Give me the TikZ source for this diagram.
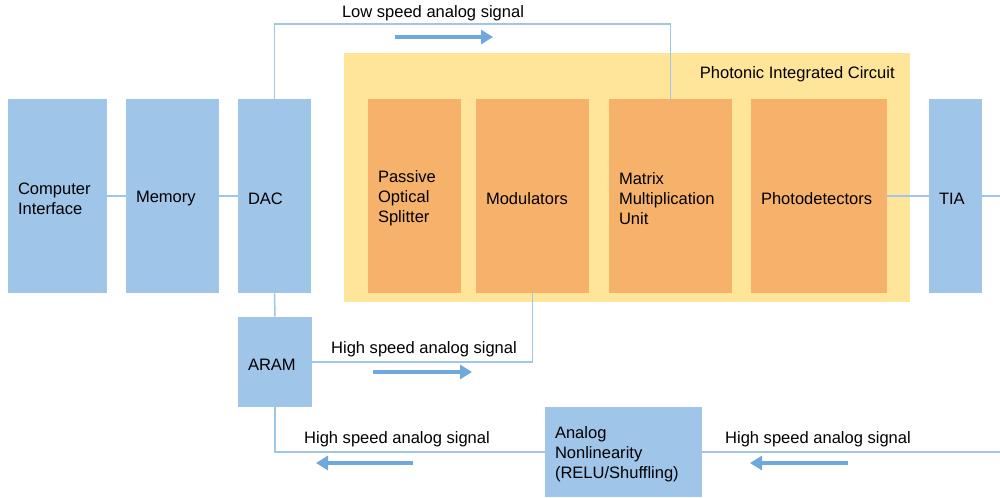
\documentclass[tikz,border=0pt]{standalone}
\usepackage{fontspec}
\setmainfont{Liberation Sans}
\usetikzlibrary{arrows.meta}
\definecolor{boxblue}{HTML}{9FC5E8}
\definecolor{boxorange}{HTML}{F6B26B}
\definecolor{picyellow}{HTML}{FFE599}
\definecolor{wireblue}{HTML}{9FC5E8}
\definecolor{arrowblue}{HTML}{6FA8DC}
\tikzset{
  txt/.style={font=\fontsize{12.4}{15}\selectfont, text=black},
  blk/.style={txt, fill=boxblue, draw=none, inner xsep=7.5pt, inner ysep=0pt, align=left, minimum height=#1,
    text height=12.8pt},
  oblk/.style={blk=#1, fill=boxorange},
  wire/.style={draw=wireblue, line width=1.1pt},
  flow/.style={draw=arrowblue, line width=2.3pt, -{Triangle[length=9pt,width=10.5pt]}},
  lbl/.style={txt, inner sep=0pt}
}
\begin{document}
\begin{tikzpicture}[x=0.75pt,y=-0.75pt]
\useasboundingbox (0,0) rectangle (1000,498);
% Photonic integrated circuit background
\fill[picyellow] (344,53) rectangle (910,302);
\node[lbl, anchor=east] (piclabel) at (895,74.5) {Photonic Integrated Circuit};
% blocks
\node[blk=145.5pt, text width=59.25pt] (ci) at (57.5,196) {Computer\\Interface};
\node[blk=145.5pt, text width=54.75pt] (mem) at (172.5,196) {Memory};
\node[blk=145.5pt, text width=39.75pt] (dac) at (274.5,196) {DAC};
\node[blk=145.5pt, text width=24.75pt] (tia) at (955.5,196) {TIA};
\node[oblk=145.5pt, text width=54.75pt] (split) at (414.5,196) {Passive\\Optical\\Splitter};
\node[oblk=145.5pt, text width=69.75pt] (mod) at (532.5,196) {Modulators};
\node[oblk=145.5pt, text width=77.25pt] (mmu) at (670.5,196) {Matrix\\Multiplication\\Unit};
\node[oblk=145.5pt, text width=87pt] (pd) at (819,196) {Photodetectors};
\node[blk=67.5pt, text width=40.5pt] (aram) at (275,362) {ARAM};
\node[blk=67.5pt, text width=102.75pt] (anl) at (623.5,452) {Analog\\Nonlinearity\\(RELU/Shuffling)};
% wires
\coordinate (top) at (670.5,24);
\coordinate (tiaout) at (1000,196);
\coordinate (anlin) at (1000,452);
\draw[wire] (ci) -- (mem);
\draw[wire] (mem) -- (dac);
\draw[wire] (dac.north) |- (top) -- (mmu.north);
\draw[wire] (dac.south) -- (aram.north);
\draw[wire] (aram.east) -| (mod.south);
\draw[wire] (aram.south) |- (anl.west);
\draw[wire] (pd) -- (tia);
\draw[wire] (tia.east) -- (tiaout);
\draw[wire] (anlin) -- (anl.east);
% flow arrows
\coordinate (a1s) at (395,37); \coordinate (a1e) at (493,37);
\coordinate (a2s) at (373,372); \coordinate (a2e) at (472,372);
\coordinate (a3s) at (413,463); \coordinate (a3e) at (316,463);
\coordinate (a4s) at (848,463); \coordinate (a4e) at (750,463);
\draw[flow] (a1s) -- (a1e);
\draw[flow] (a2s) -- (a2e);
\draw[flow] (a3s) -- (a3e);
\draw[flow] (a4s) -- (a4e);
% labels
\node[lbl] (l1) at (433,13.5) {Low speed analog signal};
\node[lbl] (l2) at (424,349.5) {High speed analog signal};
\node[lbl] (l3) at (397,439.5) {High speed analog signal};
\node[lbl] (l4) at (818,439.5) {High speed analog signal};
\end{tikzpicture}
\end{document}
